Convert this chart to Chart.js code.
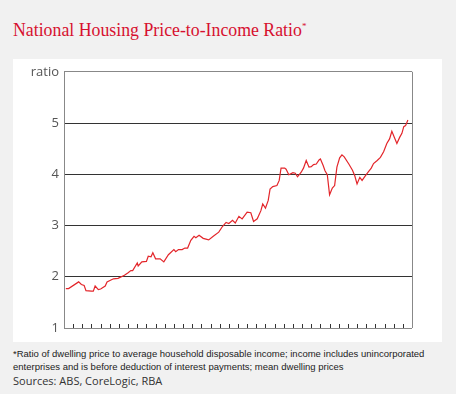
<!DOCTYPE html>
<html>
<head>
<meta charset="utf-8">
<script src="https://cdn.jsdelivr.net/npm/chart.js@4/dist/chart.umd.min.js"></script>
<style>
  html, body { margin: 0; padding: 0; }
  body { width: 456px; height: 394px; background: #f1f1f1; position: relative; overflow: hidden; }
  #title { position: absolute; left: 13px; top: 20px; font-family: "Liberation Serif", serif; font-size: 17.8px; color: #d7102f; white-space: nowrap; }
  #title sup { font-size: 9px; vertical-align: 7px; line-height: 0; }
  #panel { position: absolute; left: 13px; top: 59px; width: 429px; height: 283px; background: #fff; }
  #note { position: absolute; left: 13px; top: 348px; font-family: "Liberation Sans", sans-serif; font-size: 9.5px; line-height: 12.7px; color: #222; white-space: nowrap; }
  #src { position: absolute; left: 13px; top: 373px; font-family: "Open Sans", sans-serif; font-size: 11px; color: #333; white-space: nowrap; }
</style>
</head>
<body>
<div id="title">National Housing Price-to-Income Ratio<sup>*</sup></div>
<div id="panel"><canvas id="chart" width="429" height="283"></canvas></div>
<div id="note">*Ratio of dwelling price to average household disposable income; income includes unincorporated<br>enterprises and is before deduction of interest payments; mean dwelling prices</div>
<div id="src">Sources: ABS, CoreLogic, RBA</div>
<script>
// decimal year, ratio
var dates = [1980.2, 1980.5, 1981.6, 1981.9, 1982.2, 1982.4, 1983.0, 1983.2, 1983.4, 1983.75,
  1984.0, 1984.5, 1984.7, 1985.4, 1985.9, 1986.6, 1987.0, 1987.3, 1987.5, 1988.0,
  1988.1, 1988.5, 1989.0, 1989.2, 1989.5, 1989.7, 1990.0, 1990.5, 1990.9, 1991.4,
  1992.0, 1992.2, 1992.5, 1992.9, 1993.2, 1993.5, 1993.85, 1994.2, 1994.4, 1994.75,
  1995.2, 1995.8, 1996.3, 1996.9, 1997.3, 1997.7, 1998.0, 1998.4, 1998.7, 1999.1,
  1999.45, 2000.0, 2000.4, 2000.7, 2001.1, 2001.5, 2001.7, 2002.0, 2002.3, 2002.5,
  2002.8, 2003.25, 2003.5, 2003.7, 2004.1, 2004.25, 2004.55, 2005.0, 2005.25, 2005.5,
  2005.9, 2006.15, 2006.45, 2006.75, 2007.0, 2007.25, 2007.55, 2007.85, 2008.0, 2008.3,
  2008.5, 2008.75, 2009.0, 2009.3, 2009.55, 2009.8, 2010.1, 2010.35, 2010.6, 2011.1,
  2011.5, 2011.75, 2012.0, 2012.3, 2012.55, 2012.9, 2013.25, 2013.55, 2013.8, 2014.2,
  2014.55, 2014.9, 2015.25, 2015.55, 2015.8, 2016.1, 2016.35, 2016.65, 2016.9, 2017.1,
  2017.3, 2017.55];
var ratio = [1.77, 1.77, 1.90, 1.85, 1.83, 1.73, 1.72, 1.72, 1.82, 1.75,
  1.76, 1.82, 1.90, 1.96, 1.97, 2.03, 2.08, 2.12, 2.12, 2.27,
  2.21, 2.29, 2.30, 2.40, 2.39, 2.47, 2.35, 2.35, 2.29, 2.43,
  2.53, 2.49, 2.53, 2.53, 2.56, 2.56, 2.71, 2.79, 2.76, 2.81,
  2.75, 2.72, 2.79, 2.87, 2.98, 3.06, 3.04, 3.10, 3.05, 3.18,
  3.13, 3.26, 3.25, 3.08, 3.13, 3.29, 3.42, 3.34, 3.49, 3.71,
  3.76, 3.78, 3.88, 4.12, 4.12, 4.10, 3.99, 4.03, 4.02, 3.95,
  4.04, 4.12, 4.27, 4.14, 4.15, 4.19, 4.20, 4.28, 4.30, 4.17,
  4.07, 3.99, 3.60, 3.73, 3.78, 4.14, 4.32, 4.38, 4.34, 4.20,
  4.08, 3.97, 3.81, 3.94, 3.88, 3.97, 4.05, 4.12, 4.21, 4.27,
  4.33, 4.44, 4.60, 4.69, 4.84, 4.71, 4.60, 4.72, 4.80, 4.93,
  4.95, 5.06];
var yTicks = [1, 2, 3, 4, 5];
var yUnit = 'ratio';
var firstYear = 1980, lastYear = 2018;

var points = dates.map(function(d, i){ return {x: d, y: ratio[i]}; });

// year ticks point up from the axis, plus the right-hand frame line
var frame = {
  id: 'frame',
  afterDatasetsDraw: function(chart){
    var ctx = chart.ctx, area = chart.chartArea, xs = chart.scales.x;
    ctx.save();
    ctx.strokeStyle = '#333';
    ctx.lineWidth = 1;
    ctx.beginPath();
    for (var yr = firstYear + 1; yr < lastYear; yr++) {
      var px = Math.round(xs.getPixelForValue(yr)) + 0.5;
      ctx.moveTo(px, area.bottom);
      ctx.lineTo(px, area.bottom - 4);
    }
    ctx.stroke();
    ctx.strokeStyle = '#888';
    ctx.beginPath();
    ctx.moveTo(Math.round(area.right) + 0.5, area.top);
    ctx.lineTo(Math.round(area.right) + 0.5, area.bottom);
    ctx.stroke();
    ctx.restore();
  }
};

new Chart(document.getElementById('chart'), {
  type: 'line',
  data: {
    datasets: [{
      data: points,
      borderColor: '#e3262b',
      borderWidth: 1.2,
      pointRadius: 0,
      tension: 0,
      fill: false
    }]
  },
  options: {
    responsive: false,
    animation: false,
    events: [],
    layout: { padding: { left: 0, top: 12, right: 30, bottom: 14 } },
    plugins: { legend: { display: false }, tooltip: { enabled: false } },
    scales: {
      x: {
        type: 'linear',
        min: firstYear,
        max: lastYear,
        ticks: { display: false },
        grid: { display: false },
        border: { display: false },
        afterFit: function(s){ s.height = 0; }
      },
      y: {
        min: 1,
        max: 6,
        afterBuildTicks: function(s){
          s.ticks = yTicks.concat([6]).map(function(v){ return {value: v}; });
        },
        afterFit: function(s){ s.width = 51; },
        ticks: {
          padding: 5,
          color: '#555',
          font: { family: 'Open Sans', size: 13 },
          callback: function(v){ return v === 6 ? yUnit : v; }
        },
        grid: {
          drawTicks: false,
          lineWidth: 1,
          color: function(c){ return (c.tick && c.tick.value > 1 && c.tick.value < 6) ? '#333' : '#888'; }
        },
        border: { display: true, color: '#888', width: 1 }
      }
    }
  },
  plugins: [frame]
});
</script>
</body>
</html>
